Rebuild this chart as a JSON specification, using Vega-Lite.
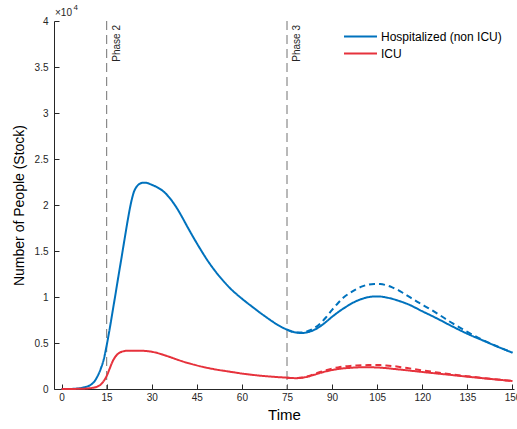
{
  "$schema": "https://vega.github.io/schema/vega-lite/v6.json",
  "width": 460,
  "height": 368,
  "autosize": {"type": "none"},
  "padding": {"left": 54, "top": 21, "right": 3, "bottom": 40},
  "config": {"view": {"stroke": null}, "font": "Liberation Sans"},
  "datasets": {
    "phases": [{"t": 15, "label": "Phase 2"}, {"t": 75, "label": "Phase 3"}],
    "curves": [
      {"t": 0, "v": 0, "series": "Hospitalized (non ICU)", "scenario": "base"},
      {"t": 3, "v": 10, "series": "Hospitalized (non ICU)", "scenario": "base"},
      {"t": 6, "v": 80, "series": "Hospitalized (non ICU)", "scenario": "base"},
      {"t": 8, "v": 220, "series": "Hospitalized (non ICU)", "scenario": "base"},
      {"t": 10, "v": 520, "series": "Hospitalized (non ICU)", "scenario": "base"},
      {"t": 11, "v": 850, "series": "Hospitalized (non ICU)", "scenario": "base"},
      {"t": 12, "v": 1400, "series": "Hospitalized (non ICU)", "scenario": "base"},
      {"t": 13, "v": 2150, "series": "Hospitalized (non ICU)", "scenario": "base"},
      {"t": 14, "v": 3150, "series": "Hospitalized (non ICU)", "scenario": "base"},
      {"t": 15, "v": 4700, "series": "Hospitalized (non ICU)", "scenario": "base"},
      {"t": 16, "v": 6500, "series": "Hospitalized (non ICU)", "scenario": "base"},
      {"t": 17, "v": 8450, "series": "Hospitalized (non ICU)", "scenario": "base"},
      {"t": 18, "v": 10400, "series": "Hospitalized (non ICU)", "scenario": "base"},
      {"t": 19, "v": 12400, "series": "Hospitalized (non ICU)", "scenario": "base"},
      {"t": 20, "v": 14350, "series": "Hospitalized (non ICU)", "scenario": "base"},
      {"t": 21, "v": 16350, "series": "Hospitalized (non ICU)", "scenario": "base"},
      {"t": 22, "v": 18300, "series": "Hospitalized (non ICU)", "scenario": "base"},
      {"t": 23, "v": 20050, "series": "Hospitalized (non ICU)", "scenario": "base"},
      {"t": 24, "v": 21350, "series": "Hospitalized (non ICU)", "scenario": "base"},
      {"t": 25, "v": 22000, "series": "Hospitalized (non ICU)", "scenario": "base"},
      {"t": 26, "v": 22300, "series": "Hospitalized (non ICU)", "scenario": "base"},
      {"t": 27, "v": 22420, "series": "Hospitalized (non ICU)", "scenario": "base"},
      {"t": 28, "v": 22420, "series": "Hospitalized (non ICU)", "scenario": "base"},
      {"t": 30, "v": 22200, "series": "Hospitalized (non ICU)", "scenario": "base"},
      {"t": 32, "v": 21900, "series": "Hospitalized (non ICU)", "scenario": "base"},
      {"t": 34, "v": 21450, "series": "Hospitalized (non ICU)", "scenario": "base"},
      {"t": 36, "v": 20750, "series": "Hospitalized (non ICU)", "scenario": "base"},
      {"t": 38, "v": 19850, "series": "Hospitalized (non ICU)", "scenario": "base"},
      {"t": 40, "v": 18750, "series": "Hospitalized (non ICU)", "scenario": "base"},
      {"t": 42, "v": 17550, "series": "Hospitalized (non ICU)", "scenario": "base"},
      {"t": 44, "v": 16400, "series": "Hospitalized (non ICU)", "scenario": "base"},
      {"t": 46, "v": 15300, "series": "Hospitalized (non ICU)", "scenario": "base"},
      {"t": 48, "v": 14250, "series": "Hospitalized (non ICU)", "scenario": "base"},
      {"t": 50, "v": 13300, "series": "Hospitalized (non ICU)", "scenario": "base"},
      {"t": 52, "v": 12450, "series": "Hospitalized (non ICU)", "scenario": "base"},
      {"t": 54, "v": 11680, "series": "Hospitalized (non ICU)", "scenario": "base"},
      {"t": 56, "v": 10980, "series": "Hospitalized (non ICU)", "scenario": "base"},
      {"t": 58, "v": 10370, "series": "Hospitalized (non ICU)", "scenario": "base"},
      {"t": 60, "v": 9820, "series": "Hospitalized (non ICU)", "scenario": "base"},
      {"t": 62, "v": 9300, "series": "Hospitalized (non ICU)", "scenario": "base"},
      {"t": 64, "v": 8800, "series": "Hospitalized (non ICU)", "scenario": "base"},
      {"t": 66, "v": 8300, "series": "Hospitalized (non ICU)", "scenario": "base"},
      {"t": 68, "v": 7830, "series": "Hospitalized (non ICU)", "scenario": "base"},
      {"t": 70, "v": 7370, "series": "Hospitalized (non ICU)", "scenario": "base"},
      {"t": 72, "v": 6950, "series": "Hospitalized (non ICU)", "scenario": "base"},
      {"t": 74, "v": 6600, "series": "Hospitalized (non ICU)", "scenario": "base"},
      {"t": 75, "v": 6460, "series": "Hospitalized (non ICU)", "scenario": "base"},
      {"t": 76, "v": 6330, "series": "Hospitalized (non ICU)", "scenario": "base"},
      {"t": 77, "v": 6220, "series": "Hospitalized (non ICU)", "scenario": "base"},
      {"t": 78, "v": 6140, "series": "Hospitalized (non ICU)", "scenario": "base"},
      {"t": 79, "v": 6100, "series": "Hospitalized (non ICU)", "scenario": "base"},
      {"t": 80, "v": 6090, "series": "Hospitalized (non ICU)", "scenario": "base"},
      {"t": 81, "v": 6120, "series": "Hospitalized (non ICU)", "scenario": "base"},
      {"t": 82, "v": 6190, "series": "Hospitalized (non ICU)", "scenario": "base"},
      {"t": 84, "v": 6420, "series": "Hospitalized (non ICU)", "scenario": "base"},
      {"t": 86, "v": 6800, "series": "Hospitalized (non ICU)", "scenario": "base"},
      {"t": 88, "v": 7300, "series": "Hospitalized (non ICU)", "scenario": "base"},
      {"t": 90, "v": 7850, "series": "Hospitalized (non ICU)", "scenario": "base"},
      {"t": 92, "v": 8350, "series": "Hospitalized (non ICU)", "scenario": "base"},
      {"t": 94, "v": 8800, "series": "Hospitalized (non ICU)", "scenario": "base"},
      {"t": 96, "v": 9200, "series": "Hospitalized (non ICU)", "scenario": "base"},
      {"t": 98, "v": 9550, "series": "Hospitalized (non ICU)", "scenario": "base"},
      {"t": 100, "v": 9800, "series": "Hospitalized (non ICU)", "scenario": "base"},
      {"t": 102, "v": 9980, "series": "Hospitalized (non ICU)", "scenario": "base"},
      {"t": 104, "v": 10060, "series": "Hospitalized (non ICU)", "scenario": "base"},
      {"t": 106, "v": 10050, "series": "Hospitalized (non ICU)", "scenario": "base"},
      {"t": 108, "v": 9950, "series": "Hospitalized (non ICU)", "scenario": "base"},
      {"t": 110, "v": 9800, "series": "Hospitalized (non ICU)", "scenario": "base"},
      {"t": 112, "v": 9600, "series": "Hospitalized (non ICU)", "scenario": "base"},
      {"t": 115, "v": 9250, "series": "Hospitalized (non ICU)", "scenario": "base"},
      {"t": 120, "v": 8450, "series": "Hospitalized (non ICU)", "scenario": "base"},
      {"t": 125, "v": 7650, "series": "Hospitalized (non ICU)", "scenario": "base"},
      {"t": 130, "v": 6800, "series": "Hospitalized (non ICU)", "scenario": "base"},
      {"t": 135, "v": 6000, "series": "Hospitalized (non ICU)", "scenario": "base"},
      {"t": 140, "v": 5300, "series": "Hospitalized (non ICU)", "scenario": "base"},
      {"t": 145, "v": 4600, "series": "Hospitalized (non ICU)", "scenario": "base"},
      {"t": 150, "v": 3950, "series": "Hospitalized (non ICU)", "scenario": "base"},

      {"t": 75, "v": 6460, "series": "Hospitalized (non ICU)", "scenario": "alt"},
      {"t": 78, "v": 6140, "series": "Hospitalized (non ICU)", "scenario": "alt"},
      {"t": 80, "v": 6140, "series": "Hospitalized (non ICU)", "scenario": "alt"},
      {"t": 82, "v": 6300, "series": "Hospitalized (non ICU)", "scenario": "alt"},
      {"t": 84, "v": 6600, "series": "Hospitalized (non ICU)", "scenario": "alt"},
      {"t": 86, "v": 7100, "series": "Hospitalized (non ICU)", "scenario": "alt"},
      {"t": 88, "v": 7800, "series": "Hospitalized (non ICU)", "scenario": "alt"},
      {"t": 90, "v": 8600, "series": "Hospitalized (non ICU)", "scenario": "alt"},
      {"t": 92, "v": 9350, "series": "Hospitalized (non ICU)", "scenario": "alt"},
      {"t": 94, "v": 10000, "series": "Hospitalized (non ICU)", "scenario": "alt"},
      {"t": 96, "v": 10450, "series": "Hospitalized (non ICU)", "scenario": "alt"},
      {"t": 98, "v": 10850, "series": "Hospitalized (non ICU)", "scenario": "alt"},
      {"t": 100, "v": 11150, "series": "Hospitalized (non ICU)", "scenario": "alt"},
      {"t": 102, "v": 11350, "series": "Hospitalized (non ICU)", "scenario": "alt"},
      {"t": 104, "v": 11420, "series": "Hospitalized (non ICU)", "scenario": "alt"},
      {"t": 106, "v": 11400, "series": "Hospitalized (non ICU)", "scenario": "alt"},
      {"t": 108, "v": 11280, "series": "Hospitalized (non ICU)", "scenario": "alt"},
      {"t": 110, "v": 11050, "series": "Hospitalized (non ICU)", "scenario": "alt"},
      {"t": 112, "v": 10750, "series": "Hospitalized (non ICU)", "scenario": "alt"},
      {"t": 114, "v": 10350, "series": "Hospitalized (non ICU)", "scenario": "alt"},
      {"t": 116, "v": 9950, "series": "Hospitalized (non ICU)", "scenario": "alt"},
      {"t": 119, "v": 9350, "series": "Hospitalized (non ICU)", "scenario": "alt"},
      {"t": 122, "v": 8800, "series": "Hospitalized (non ICU)", "scenario": "alt"},
      {"t": 125, "v": 8200, "series": "Hospitalized (non ICU)", "scenario": "alt"},
      {"t": 130, "v": 7150, "series": "Hospitalized (non ICU)", "scenario": "alt"},
      {"t": 135, "v": 6200, "series": "Hospitalized (non ICU)", "scenario": "alt"},
      {"t": 140, "v": 5350, "series": "Hospitalized (non ICU)", "scenario": "alt"},
      {"t": 145, "v": 4620, "series": "Hospitalized (non ICU)", "scenario": "alt"},
      {"t": 150, "v": 3950, "series": "Hospitalized (non ICU)", "scenario": "alt"},

      {"t": 0, "v": 0, "series": "ICU", "scenario": "base"},
      {"t": 6, "v": 20, "series": "ICU", "scenario": "base"},
      {"t": 10, "v": 110, "series": "ICU", "scenario": "base"},
      {"t": 12, "v": 280, "series": "ICU", "scenario": "base"},
      {"t": 13, "v": 470, "series": "ICU", "scenario": "base"},
      {"t": 14, "v": 850, "series": "ICU", "scenario": "base"},
      {"t": 15, "v": 1400, "series": "ICU", "scenario": "base"},
      {"t": 16, "v": 2200, "series": "ICU", "scenario": "base"},
      {"t": 17, "v": 3000, "series": "ICU", "scenario": "base"},
      {"t": 18, "v": 3550, "series": "ICU", "scenario": "base"},
      {"t": 19, "v": 3880, "series": "ICU", "scenario": "base"},
      {"t": 20, "v": 4050, "series": "ICU", "scenario": "base"},
      {"t": 21, "v": 4130, "series": "ICU", "scenario": "base"},
      {"t": 22, "v": 4160, "series": "ICU", "scenario": "base"},
      {"t": 24, "v": 4170, "series": "ICU", "scenario": "base"},
      {"t": 26, "v": 4170, "series": "ICU", "scenario": "base"},
      {"t": 28, "v": 4130, "series": "ICU", "scenario": "base"},
      {"t": 30, "v": 4050, "series": "ICU", "scenario": "base"},
      {"t": 32, "v": 3900, "series": "ICU", "scenario": "base"},
      {"t": 34, "v": 3700, "series": "ICU", "scenario": "base"},
      {"t": 36, "v": 3480, "series": "ICU", "scenario": "base"},
      {"t": 38, "v": 3250, "series": "ICU", "scenario": "base"},
      {"t": 40, "v": 3030, "series": "ICU", "scenario": "base"},
      {"t": 42, "v": 2830, "series": "ICU", "scenario": "base"},
      {"t": 44, "v": 2650, "series": "ICU", "scenario": "base"},
      {"t": 46, "v": 2480, "series": "ICU", "scenario": "base"},
      {"t": 48, "v": 2330, "series": "ICU", "scenario": "base"},
      {"t": 50, "v": 2200, "series": "ICU", "scenario": "base"},
      {"t": 52, "v": 2080, "series": "ICU", "scenario": "base"},
      {"t": 54, "v": 1980, "series": "ICU", "scenario": "base"},
      {"t": 56, "v": 1880, "series": "ICU", "scenario": "base"},
      {"t": 58, "v": 1780, "series": "ICU", "scenario": "base"},
      {"t": 60, "v": 1680, "series": "ICU", "scenario": "base"},
      {"t": 62, "v": 1600, "series": "ICU", "scenario": "base"},
      {"t": 64, "v": 1520, "series": "ICU", "scenario": "base"},
      {"t": 66, "v": 1450, "series": "ICU", "scenario": "base"},
      {"t": 68, "v": 1390, "series": "ICU", "scenario": "base"},
      {"t": 70, "v": 1340, "series": "ICU", "scenario": "base"},
      {"t": 72, "v": 1290, "series": "ICU", "scenario": "base"},
      {"t": 74, "v": 1250, "series": "ICU", "scenario": "base"},
      {"t": 75, "v": 1230, "series": "ICU", "scenario": "base"},
      {"t": 76, "v": 1200, "series": "ICU", "scenario": "base"},
      {"t": 78, "v": 1180, "series": "ICU", "scenario": "base"},
      {"t": 80, "v": 1220, "series": "ICU", "scenario": "base"},
      {"t": 82, "v": 1350, "series": "ICU", "scenario": "base"},
      {"t": 84, "v": 1540, "series": "ICU", "scenario": "base"},
      {"t": 86, "v": 1740, "series": "ICU", "scenario": "base"},
      {"t": 88, "v": 1920, "series": "ICU", "scenario": "base"},
      {"t": 90, "v": 2060, "series": "ICU", "scenario": "base"},
      {"t": 92, "v": 2170, "series": "ICU", "scenario": "base"},
      {"t": 94, "v": 2250, "series": "ICU", "scenario": "base"},
      {"t": 96, "v": 2300, "series": "ICU", "scenario": "base"},
      {"t": 98, "v": 2340, "series": "ICU", "scenario": "base"},
      {"t": 100, "v": 2360, "series": "ICU", "scenario": "base"},
      {"t": 102, "v": 2360, "series": "ICU", "scenario": "base"},
      {"t": 104, "v": 2350, "series": "ICU", "scenario": "base"},
      {"t": 106, "v": 2320, "series": "ICU", "scenario": "base"},
      {"t": 108, "v": 2270, "series": "ICU", "scenario": "base"},
      {"t": 110, "v": 2200, "series": "ICU", "scenario": "base"},
      {"t": 115, "v": 2030, "series": "ICU", "scenario": "base"},
      {"t": 120, "v": 1850, "series": "ICU", "scenario": "base"},
      {"t": 125, "v": 1680, "series": "ICU", "scenario": "base"},
      {"t": 130, "v": 1510, "series": "ICU", "scenario": "base"},
      {"t": 135, "v": 1340, "series": "ICU", "scenario": "base"},
      {"t": 140, "v": 1180, "series": "ICU", "scenario": "base"},
      {"t": 145, "v": 1020, "series": "ICU", "scenario": "base"},
      {"t": 150, "v": 870, "series": "ICU", "scenario": "base"},

      {"t": 75, "v": 1230, "series": "ICU", "scenario": "alt"},
      {"t": 78, "v": 1180, "series": "ICU", "scenario": "alt"},
      {"t": 80, "v": 1240, "series": "ICU", "scenario": "alt"},
      {"t": 82, "v": 1400, "series": "ICU", "scenario": "alt"},
      {"t": 84, "v": 1620, "series": "ICU", "scenario": "alt"},
      {"t": 86, "v": 1850, "series": "ICU", "scenario": "alt"},
      {"t": 88, "v": 2050, "series": "ICU", "scenario": "alt"},
      {"t": 90, "v": 2220, "series": "ICU", "scenario": "alt"},
      {"t": 92, "v": 2350, "series": "ICU", "scenario": "alt"},
      {"t": 94, "v": 2450, "series": "ICU", "scenario": "alt"},
      {"t": 96, "v": 2510, "series": "ICU", "scenario": "alt"},
      {"t": 98, "v": 2550, "series": "ICU", "scenario": "alt"},
      {"t": 100, "v": 2580, "series": "ICU", "scenario": "alt"},
      {"t": 102, "v": 2600, "series": "ICU", "scenario": "alt"},
      {"t": 104, "v": 2610, "series": "ICU", "scenario": "alt"},
      {"t": 106, "v": 2600, "series": "ICU", "scenario": "alt"},
      {"t": 108, "v": 2560, "series": "ICU", "scenario": "alt"},
      {"t": 110, "v": 2500, "series": "ICU", "scenario": "alt"},
      {"t": 112, "v": 2420, "series": "ICU", "scenario": "alt"},
      {"t": 115, "v": 2280, "series": "ICU", "scenario": "alt"},
      {"t": 120, "v": 2020, "series": "ICU", "scenario": "alt"},
      {"t": 125, "v": 1800, "series": "ICU", "scenario": "alt"},
      {"t": 130, "v": 1580, "series": "ICU", "scenario": "alt"},
      {"t": 135, "v": 1390, "series": "ICU", "scenario": "alt"},
      {"t": 140, "v": 1200, "series": "ICU", "scenario": "alt"},
      {"t": 145, "v": 1030, "series": "ICU", "scenario": "alt"},
      {"t": 150, "v": 870, "series": "ICU", "scenario": "alt"}
    ]
  },
  "layer": [
    {
      "data": {"name": "phases"},
      "mark": {"type": "rule", "color": "#8a8a8a", "strokeWidth": 1.2, "strokeDash": [9, 5]},
      "encoding": {
        "x": {"field": "t", "type": "quantitative"}
      }
    },
    {
      "data": {"name": "phases"},
      "mark": {"type": "text", "angle": 270, "align": "right", "baseline": "top", "dx": -4, "dy": 5, "fontSize": 10, "color": "#262626"},
      "encoding": {
        "x": {"field": "t", "type": "quantitative"},
        "y": {"datum": 40000, "type": "quantitative"},
        "text": {"field": "label"}
      }
    },
    {
      "data": {"name": "curves"},
      "mark": {"type": "line", "strokeWidth": 2, "interpolate": "monotone"},
      "encoding": {
        "x": {
          "field": "t", "type": "quantitative",
          "scale": {"domain": [-2.5, 150.5], "nice": false, "zero": false},
          "axis": {
            "title": "Time", "values": [0, 15, 30, 45, 60, 75, 90, 105, 120, 135, 150],
            "grid": false, "domainColor": "#262626", "tickColor": "#262626", "tickSize": -5,
            "labelFontSize": 10, "labelColor": "#262626", "labelPadding": 8, "labelFlush": false,
            "titleFontSize": 15, "titleFontWeight": "normal", "titleColor": "#000000", "titlePadding": 5
          }
        },
        "y": {
          "field": "v", "type": "quantitative",
          "scale": {"domain": [0, 40000], "nice": false},
          "axis": {
            "title": "Number of People (Stock)", "values": [0, 5000, 10000, 15000, 20000, 25000, 30000, 35000, 40000],
            "labelExpr": "datum.value / 10000",
            "grid": false, "domainColor": "#262626", "tickColor": "#262626", "tickSize": -5,
            "labelFontSize": 10, "labelColor": "#262626", "labelPadding": 11,
            "titleFontSize": 14, "titleFontWeight": "normal", "titleColor": "#000000", "titlePadding": 8
          }
        },
        "color": {
          "field": "series", "type": "nominal",
          "scale": {"domain": ["Hospitalized (non ICU)", "ICU"], "range": ["#0072BD", "#E6323C"]},
          "legend": {
            "title": null, "orient": "none", "legendX": 300, "legendY": 9,
            "symbolType": "M-3,0H3", "symbolSize": 121, "symbolStrokeWidth": 2,
            "labelFontSize": 12, "labelColor": "#000000", "labelOffset": 14, "rowPadding": 4
          }
        },
        "strokeDash": {
          "field": "scenario", "type": "nominal",
          "scale": {"domain": ["base", "alt"], "range": [[1, 0], [6, 4]]},
          "legend": null
        },
        "detail": {"field": "scenario"}
      }
    },
    {
      "data": {"values": [{"t": -2.5, "v": 40000, "label": "×10"}]},
      "mark": {"type": "text", "align": "left", "baseline": "bottom", "dy": -3, "dx": 1, "fontSize": 10, "color": "#262626"},
      "encoding": {
        "x": {"field": "t", "type": "quantitative"},
        "y": {"field": "v", "type": "quantitative"},
        "text": {"field": "label"}
      }
    },
    {
      "data": {"values": [{"t": -2.5, "v": 40000, "label": "4"}]},
      "mark": {"type": "text", "align": "left", "baseline": "bottom", "dy": -9, "dx": 19.5, "fontSize": 8, "color": "#262626"},
      "encoding": {
        "x": {"field": "t", "type": "quantitative"},
        "y": {"field": "v", "type": "quantitative"},
        "text": {"field": "label"}
      }
    }
  ]
}
